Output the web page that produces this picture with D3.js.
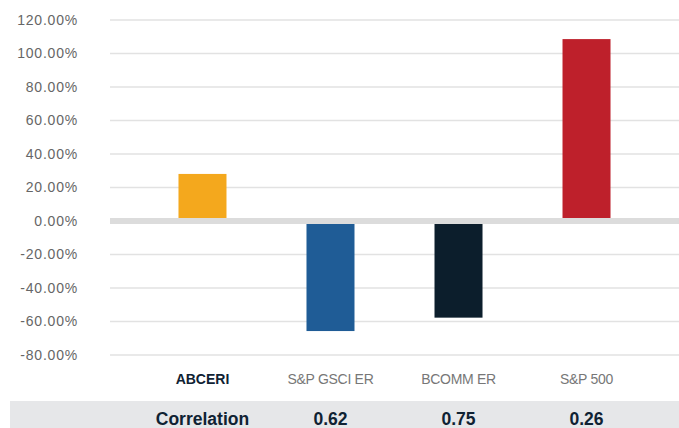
<!DOCTYPE html>
<html>
<head>
<meta charset="utf-8">
<script src="https://cdn.jsdelivr.net/npm/d3@7"></script>
<style>
  body { margin: 0; background: #fff; }
  svg { display: block; font-family: "Liberation Sans", Arial, sans-serif; }
  .tick_lbl { fill: #666; font-size: 14px; letter-spacing: 0.8px; }
  .cat_lbl { fill: #777; font-size: 14px; letter-spacing: -0.3px; }
  .cat_lbl.main { fill: #0f2233; font-weight: bold; letter-spacing: 0; }
  .corr_lbl { fill: #0f2233; font-size: 17.5px; font-weight: bold; }
</style>
</head>
<body>
<div id="chart"></div>
<script>
var categories = ["ABCERI", "S&P GSCI ER", "BCOMM ER", "S&P 500"];
var returns = [28.1, -65.7, -57.7, 108.6];
var correlations = ["0.62", "0.75", "0.26"];
var corrLabel = "Correlation";
var yTicks = [-80, -60, -40, -20, 0, 20, 40, 60, 80, 100, 120];
var barColors = ["#f4a81d", "#1f5c96", "#0c1e2c", "#be202b"];

var width = 679, height = 428;

var svg = d3.select("#chart").append("svg")
    .attr("width", width)
    .attr("height", height);

var x = d3.scaleBand()
    .domain(categories)
    .range([110, 679])
    .paddingInner(0.625)
    .paddingOuter(0.535);

var y = d3.scaleLinear()
    .domain([-80, 120])
    .range([355, 20]);

// gridlines
svg.selectAll(".grid")
    .data(yTicks.filter(function (d) { return d !== 0; }))
    .enter().append("line")
    .attr("class", "grid")
    .attr("x1", 110).attr("x2", 679)
    .attr("y1", function (d) { return y(d); })
    .attr("y2", function (d) { return y(d); })
    .attr("stroke", "#e2e2e2")
    .attr("stroke-width", 1.5);

// tick labels
svg.selectAll(".tick_lbl")
    .data(yTicks)
    .enter().append("text")
    .attr("class", "tick_lbl")
    .attr("x", 78)
    .attr("y", function (d) { return y(d); })
    .attr("dy", "0.35em")
    .attr("text-anchor", "end")
    .text(function (d) { return d.toFixed(2) + "%"; });

// bars
svg.selectAll(".bar")
    .data(returns)
    .enter().append("rect")
    .attr("class", "bar")
    .attr("x", function (d, i) { return x(categories[i]); })
    .attr("width", x.bandwidth())
    .attr("y", function (d) { return y(Math.max(0, d)); })
    .attr("height", function (d) { return Math.abs(y(d) - y(0)); })
    .attr("fill", function (d, i) { return barColors[i]; });

// zero line
svg.append("line")
    .attr("x1", 110).attr("x2", 679)
    .attr("y1", y(0)).attr("y2", y(0))
    .attr("stroke", "#dcdcdc")
    .attr("stroke-width", 6);

// category labels
svg.selectAll(".cat_lbl")
    .data(categories)
    .enter().append("text")
    .attr("class", function (d, i) { return i === 0 ? "cat_lbl main" : "cat_lbl"; })
    .attr("x", function (d) { return x(d) + x.bandwidth() / 2; })
    .attr("y", 383.5)
    .attr("text-anchor", "middle")
    .text(function (d) { return d; });

// correlation row
svg.append("rect")
    .attr("x", 10)
    .attr("y", 401)
    .attr("width", width - 10)
    .attr("height", height - 401)
    .attr("fill", "#e6e7e9");

svg.append("text")
    .attr("class", "corr_lbl")
    .attr("x", x(categories[0]) + x.bandwidth() / 2)
    .attr("y", 425)
    .attr("text-anchor", "middle")
    .text(corrLabel);

svg.selectAll(".corr_val")
    .data(correlations)
    .enter().append("text")
    .attr("class", "corr_lbl corr_val")
    .attr("x", function (d, i) { return x(categories[i + 1]) + x.bandwidth() / 2; })
    .attr("y", 425)
    .attr("text-anchor", "middle")
    .text(function (d) { return d; });
</script>
</body>
</html>
